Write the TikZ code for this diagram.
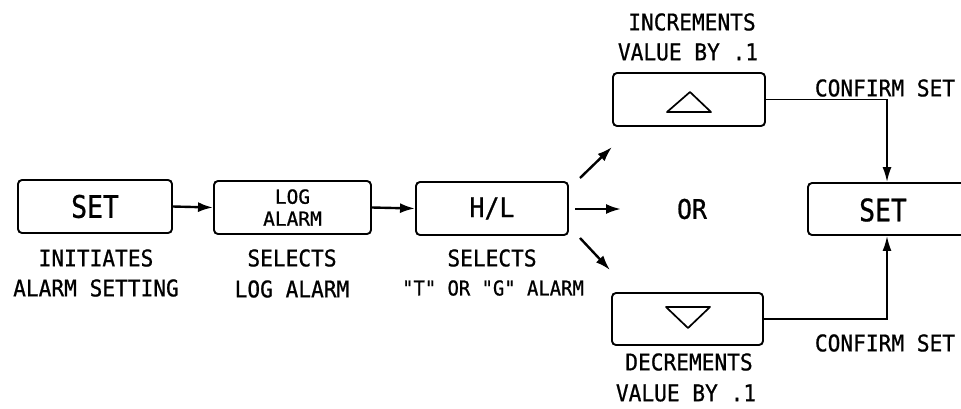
\documentclass[tikz,border=0pt]{standalone}
\usepackage{fontspec}
\usetikzlibrary{arrows.meta}
\newfontfamily\plotfont[FakeStretch=0.92,FakeBold=0.8]{DejaVu Sans Mono}
\newfontfamily\plotwide[FakeBold=0.8]{DejaVu Sans Mono}
\newfontfamily\plotnarrow[FakeStretch=0.85,FakeBold=0.8]{DejaVu Sans Mono}
\tikzset{
  box/.style={draw, line width=1.9pt, rounded corners=4pt, minimum height=53pt, inner sep=0pt},
  lbl/.style={font=\plotfont\fontsize{23}{24}\selectfont, inner sep=0pt},
  small/.style={font=\plotfont\fontsize{20.5}{21}\selectfont, inner sep=0pt},
  big/.style={font=\plotnarrow\fontsize{31}{31}\selectfont},
  mid/.style={font=\plotfont\fontsize{27}{27}\selectfont},
  flow/.style={line width=2.4pt, -{Latex[length=15pt,width=10pt]}},
  link/.style={line width=1.8pt, -{Latex[length=15pt,width=9pt]}},
  tri/.style={line width=1.7pt, line join=round},
}
\begin{document}
\begin{tikzpicture}[x=1pt,y=-1pt]
\useasboundingbox (0,0) rectangle (961,408);
% main boxes
\node[box, big, minimum width=154pt] (set) at (95,206.5) {SET};
\node[box, minimum width=157pt, align=center, font=\plotwide\fontsize{19.5}{22}\selectfont] (log) at (292.5,207.5) {LOG\\ALARM};
\node[box, mid, minimum width=152pt] (hl) at (492,208.5) {H/L};
\node[box, minimum width=152pt] (up) at (689,99.5) {};
\node[box, minimum width=151pt, minimum height=52pt] (down) at (687.5,319) {};
\node[box, big, minimum width=158pt, minimum height=52pt] (rset) at (887,209) {};
\node[big, inner sep=0pt] (rsettext) at (883,210) {SET};
\node[mid, inner sep=0pt] (or) at (692,209) {OR};
% triangles
\draw[tri] ([shift={(-22,12.5)}]up.center) -- ([shift={(1,-7.5)}]up.center) -- ([shift={(22,12.5)}]up.center) -- cycle;
\draw[tri] ([shift={(-21.5,-12)}]down.center) -- ([shift={(0.5,9)}]down.center) -- ([shift={(22.5,-12)}]down.center) -- cycle;
% connectors
\draw[flow] (set.east) -- (log.west);
\draw[flow] (log.east) -- (hl.west);
\coordinate (a1s) at (580,178); \coordinate (a1e) at (612,147);
\coordinate (a2s) at (575,209); \coordinate (a2e) at (621,209);
\coordinate (a3s) at (580,238); \coordinate (a3e) at (610,270);
\draw[flow] (a1s) -- (a1e);
\draw[flow] (a2s) -- (a2e);
\draw[flow] (a3s) -- (a3e);
\draw[link] (up.east) -| (rset.north);
\draw[link] (down.east) -| (rset.south);
% labels
\node[lbl] (l1a) at (96,258) {INITIATES};
\node[lbl] (l1b) at (96,288) {ALARM SETTING};
\node[lbl] (l2a) at (292,258) {SELECTS};
\node[lbl] (l2b) at (292,289) {LOG ALARM};
\node[lbl] (l3a) at (492,258) {SELECTS};
\node[small] (l3b) at (493,288) {"T" OR "G" ALARM};
\node[lbl] (i1) at (692,22) {INCREMENTS};
\node[lbl] (i2) at (688,52) {VALUE BY .1};
\node[lbl] (c1) at (885,88) {CONFIRM SET};
\node[lbl] (c2) at (885,343) {CONFIRM SET};
\node[lbl] (d1) at (689,362) {DECREMENTS};
\node[lbl] (d2) at (686,393) {VALUE BY .1};
\end{tikzpicture}
\end{document}
